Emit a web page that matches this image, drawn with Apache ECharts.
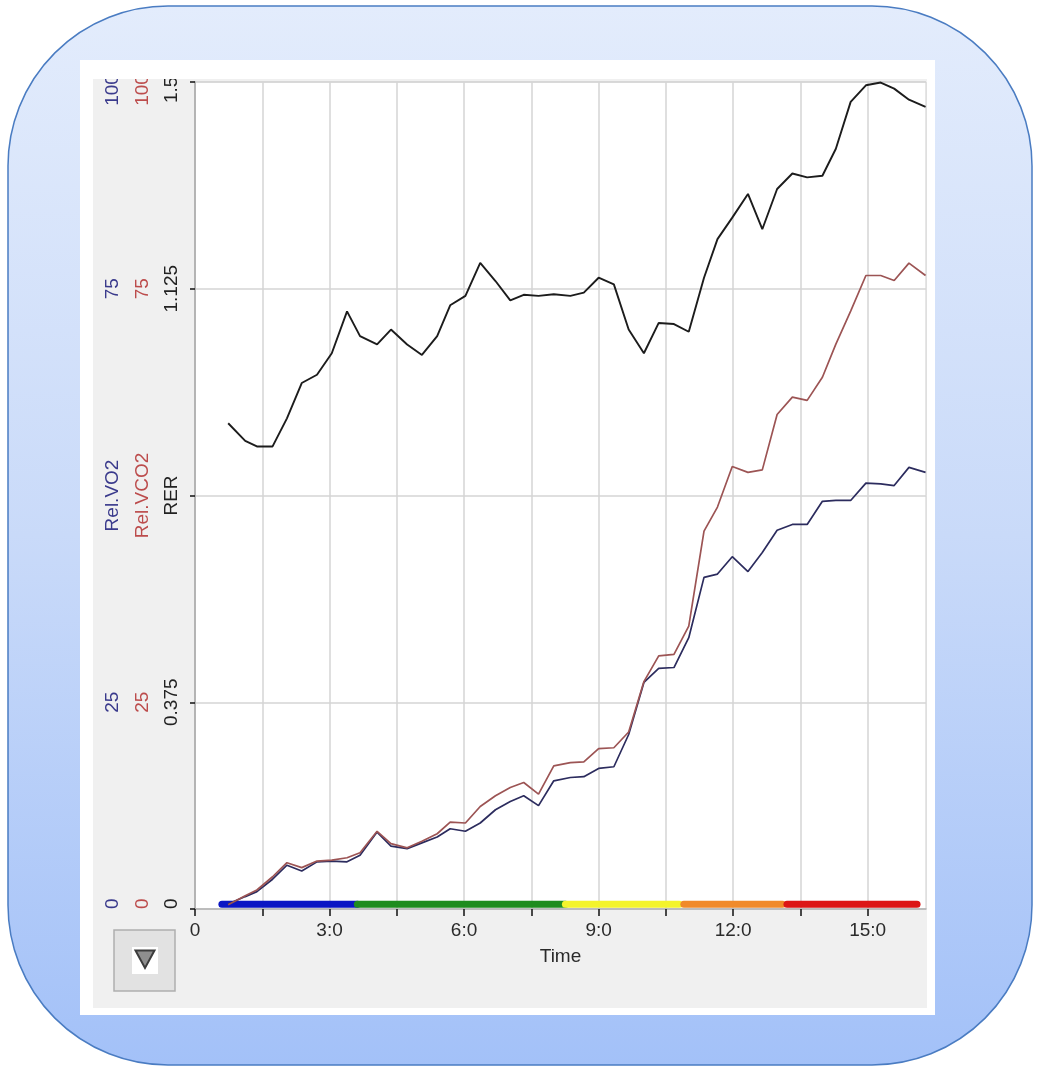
<!DOCTYPE html>
<html>
<head>
<meta charset="utf-8">
<script src="https://cdn.jsdelivr.net/npm/echarts@6/dist/echarts.min.js"></script>
<style>
  html, body { margin: 0; padding: 0; background: #ffffff; }
  #chart { width: 1040px; height: 1072px; }
</style>
</head>
<body>
<div id="chart"></div>
<script>
// Test time stamps (minutes) shared by all three traces
const timeMin = [0.74, 1.12, 1.38, 1.73, 2.05, 2.38, 2.72, 3.05, 3.39, 3.68,
  4.06, 4.37, 4.73, 5.06, 5.40, 5.69, 6.03, 6.36, 6.70, 7.03,
  7.33, 7.66, 8.00, 8.37, 8.67, 9.00, 9.34, 9.67, 10.01, 10.34,
  10.68, 11.01, 11.35, 11.65, 11.98, 12.33, 12.65, 12.98, 13.32, 13.65,
  13.99, 14.29, 14.62, 14.96, 15.29, 15.59, 15.92, 16.29];

// Respiratory exchange ratio
const rer = [0.881, 0.849, 0.839, 0.839, 0.890, 0.954, 0.969, 1.008, 1.084, 1.039,
  1.024, 1.051, 1.024, 1.005, 1.039, 1.095, 1.112, 1.172, 1.139, 1.104,
  1.114, 1.112, 1.115, 1.112, 1.118, 1.145, 1.133, 1.051, 1.008, 1.063,
  1.061, 1.047, 1.145, 1.215, 1.254, 1.297, 1.233, 1.306, 1.334, 1.327,
  1.330, 1.379, 1.464, 1.494, 1.499, 1.488, 1.468, 1.455];

// Relative VO2
const relVO2 = [0.6, 1.5, 2.1, 3.6, 5.3, 4.6, 5.7, 5.8, 5.7, 6.5,
  9.3, 7.6, 7.3, 8.0, 8.7, 9.7, 9.4, 10.4, 12.0, 13.0,
  13.7, 12.5, 15.5, 15.9, 16.0, 17.0, 17.2, 21.1, 27.4, 29.1,
  29.2, 32.8, 40.1, 40.5, 42.6, 40.8, 43.1, 45.8, 46.5, 46.5,
  49.3, 49.4, 49.4, 51.5, 51.4, 51.2, 53.4, 52.8];

// Relative VCO2
const relVCO2 = [0.5, 1.6, 2.3, 3.9, 5.6, 5.0, 5.8, 5.9, 6.2, 6.8,
  9.4, 7.9, 7.4, 8.2, 9.1, 10.5, 10.4, 12.4, 13.7, 14.7,
  15.3, 13.9, 17.3, 17.7, 17.8, 19.4, 19.5, 21.4, 27.5, 30.6,
  30.8, 34.2, 45.7, 48.6, 53.5, 52.8, 53.1, 59.8, 61.9, 61.5,
  64.3, 68.3, 72.3, 76.6, 76.6, 76.0, 78.1, 76.6];

// Protocol stages (minutes) and their colours
const stageStart = [0.60, 3.62, 8.26, 10.90, 13.20];
const stageEnd = [3.62, 8.26, 10.80, 13.10, 16.10];
const stageColor = ['#0b16c4', '#1f8c1f', '#f4f42c', '#f08a2a', '#dc1616'];
const stageLevel = 0.0085;

// Axis ticks
const xTickValues = [0, 1.5, 3, 4.5, 6, 7.5, 9, 10.5, 12, 13.5, 15];
const xLabelValues = [0, 3, 6, 9, 12, 15];

const FONT = 'Liberation Sans, Arial, sans-serif';
const VO2_COLOR = '#3a3a8c';
const VCO2_COLOR = '#bc4c4c';

const toPairs = (vals) => timeMin.map((t, i) => [t, vals[i]]);

// Vertical (rotated) labels; the end labels are nudged inside the plot height
function sideLabel(color, middleName, top, isRer) {
  return {
    rotate: 90,
    margin: 14,
    fontSize: 19,
    fontFamily: FONT,
    color: color,
    formatter: function (v) {
      if (v === 0) return '  0';
      if (isRer ? v === 0.75 : v === 50) return middleName;
      if (isRer ? v === 1.5 : v === 100) return top + '   ';
      return String(v);
    }
  };
}

const stageSeries = stageStart.map((s, i) => ({
  type: 'line',
  yAxisIndex: 0,
  data: [[s, stageLevel], [stageEnd[i], stageLevel]],
  symbol: 'none',
  silent: true,
  z: 1,
  lineStyle: { color: stageColor[i], width: 7, cap: 'round' }
}));

const chart = echarts.init(document.getElementById('chart'), null, { renderer: 'canvas' });

chart.setOption({
  animation: false,
  backgroundColor: '#ffffff',
  graphic: [
    {
      type: 'rect', z: -20,
      shape: { x: 8, y: 6, width: 1024, height: 1059, r: 160 },
      style: {
        fill: { type: 'linear', x: 0, y: 0, x2: 0, y2: 1,
          colorStops: [{ offset: 0, color: '#e3ecfc' }, { offset: 0.5, color: '#c9daf9' }, { offset: 1, color: '#a3c1f8' }] },
        stroke: '#4a7cc2', lineWidth: 1.5
      }
    },
    { type: 'rect', z: -19, shape: { x: 80, y: 60, width: 855, height: 955 }, style: { fill: '#ffffff' } },
    { type: 'rect', z: -18, shape: { x: 93, y: 79, width: 834, height: 929 }, style: { fill: '#f0f0f0' } },
    // white strip along the top of the panel
    { type: 'rect', z: 100, shape: { x: 80, y: 60, width: 855, height: 19 }, style: { fill: '#ffffff' } },
    // menu button
    { type: 'rect', z: 100, shape: { x: 114, y: 930, width: 61, height: 61 }, style: { fill: '#e2e2e2', stroke: '#aeaeae', lineWidth: 1.5 } },
    { type: 'rect', z: 101, shape: { x: 132, y: 947, width: 26, height: 27 }, style: { fill: '#ffffff' } },
    { type: 'polygon', z: 102, shape: { points: [[135.5, 950.5], [154.5, 950.5], [145, 968]] }, style: { fill: '#8e8e8e', stroke: '#3c3c3c', lineWidth: 2 } }
  ],
  grid: {
    left: 195, top: 82, width: 731, height: 827,
    show: true, backgroundColor: '#ffffff', borderColor: '#cdcdcd', borderWidth: 1
  },
  xAxis: {
    type: 'value', min: 0, max: 16.3, interval: 1.5,
    name: 'Time', nameLocation: 'middle', nameGap: 38,
    nameTextStyle: { fontSize: 19, fontFamily: FONT, color: '#2a2a2a' },
    axisLine: { show: true, lineStyle: { color: '#b4b4b4', width: 1.5 } },
    axisTick: { show: true, length: 7, customValues: xTickValues, lineStyle: { color: '#111111', width: 1.5 } },
    splitLine: { show: true, lineStyle: { color: '#d4d4d4', width: 1.5 } },
    axisLabel: {
      customValues: xLabelValues,
      margin: 12, fontSize: 19, fontFamily: FONT, color: '#2a2a2a',
      formatter: (v) => (v === 0 ? '0' : v + ':0')
    }
  },
  yAxis: [
    {
      type: 'value', position: 'left', min: 0, max: 1.5, interval: 0.375,
      axisLine: { show: true, lineStyle: { color: '#a8a8a8', width: 1.5 } },
      axisTick: { show: true, length: 5, lineStyle: { color: '#111111', width: 1.5 } },
      splitLine: { show: true, lineStyle: { color: '#d4d4d4', width: 1.5 } },
      axisLabel: sideLabel('#222222', 'RER', '1.5', true)
    },
    {
      type: 'value', position: 'left', offset: 29, min: 0, max: 100, interval: 25,
      axisLine: { show: false }, axisTick: { show: false }, splitLine: { show: false },
      axisLabel: sideLabel(VCO2_COLOR, 'Rel.VCO2', '100', false)
    },
    {
      type: 'value', position: 'left', offset: 59, min: 0, max: 100, interval: 25,
      axisLine: { show: false }, axisTick: { show: false }, splitLine: { show: false },
      axisLabel: sideLabel(VO2_COLOR, 'Rel.VO2', '100', false)
    }
  ],
  series: stageSeries.concat([
    {
      name: 'Rel.VO2', type: 'line', yAxisIndex: 2, data: toPairs(relVO2),
      symbol: 'none', z: 3, lineStyle: { color: '#2c2c5e', width: 1.7 }
    },
    {
      name: 'Rel.VCO2', type: 'line', yAxisIndex: 1, data: toPairs(relVCO2),
      symbol: 'none', z: 3, lineStyle: { color: '#9c5454', width: 1.7 }
    },
    {
      name: 'RER', type: 'line', yAxisIndex: 0, data: toPairs(rer),
      symbol: 'none', z: 4, lineStyle: { color: '#1c1c1c', width: 1.9 }
    }
  ])
});
</script>
</body>
</html>
